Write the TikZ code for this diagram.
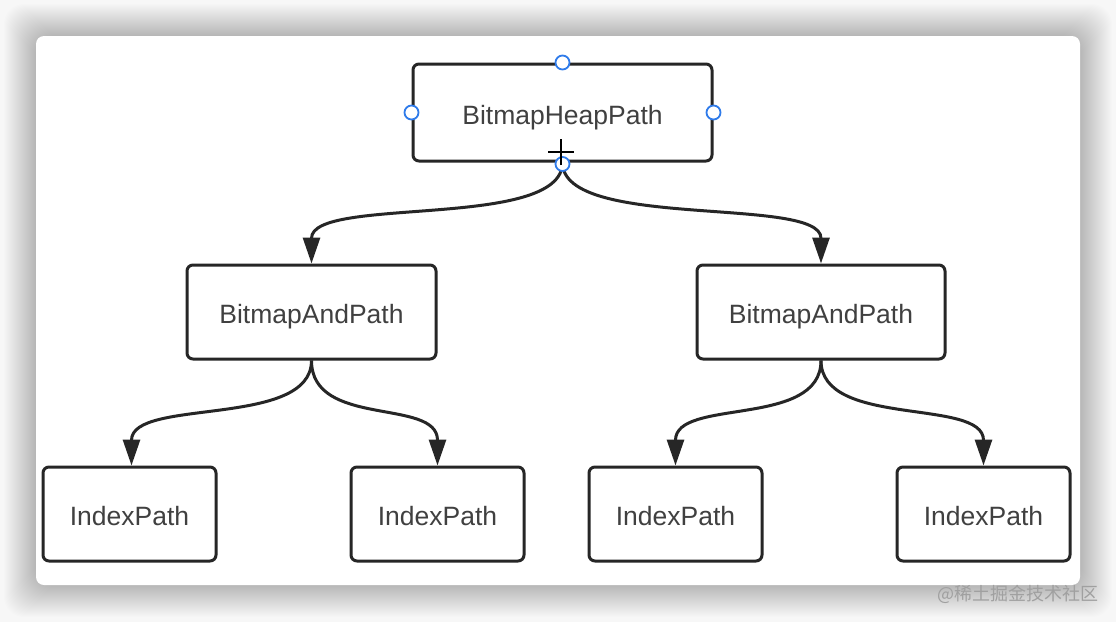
\documentclass[tikz,border=0pt]{standalone}
\usepackage{fontspec}
\setmainfont{Liberation Sans}
\newfontfamily\cjk{Noto Sans CJK SC}
\usetikzlibrary{arrows.meta}
\definecolor{boxc}{HTML}{262626}
\definecolor{txt}{HTML}{404040}
\definecolor{hblue}{HTML}{2F7BEA}
\definecolor{wm}{HTML}{A0A0A0}
\begin{document}
\begin{tikzpicture}[x=1pt,y=-1pt,
  box/.style={draw=boxc, line width=3pt, rounded corners=6pt, fill=white,
    font=\fontsize{26.5}{30}\selectfont, text=txt, inner sep=0pt,
    text height=23pt, text depth=0pt},
  conn/.style={draw=boxc, line width=3pt, -{Triangle[length=26pt,width=17pt]}},
  handle/.style={circle, draw=hblue, line width=1.8pt, fill=white, minimum size=14pt, inner sep=0pt}]
\useasboundingbox (0,0) rectangle (1116,622);
\fill[white!97!black] (0,0) rectangle (1116,622);
% shadow
\foreach \i in {1,...,32}{
  \fill[black, opacity=0.006, rounded corners=20pt] (36-\i,36-\i) rectangle (1080+\i,585+\i);
}
\fill[white, rounded corners=8pt] (36,36) rectangle (1080,585);
% nodes
\node[box, minimum width=299pt, minimum height=97pt] (top) at (562.5,112.5) {BitmapHeapPath};
\node[box, minimum width=249pt, minimum height=94pt] (ml) at (311.5,312) {BitmapAndPath};
\node[box, minimum width=248pt, minimum height=94pt] (mr) at (821,312) {BitmapAndPath};
\node[box, minimum width=173pt, minimum height=94pt] (b1) at (129.5,514) {IndexPath};
\node[box, minimum width=173pt, minimum height=94pt] (b2) at (437.5,514) {IndexPath};
\node[box, minimum width=173pt, minimum height=94pt] (b3) at (675.5,514) {IndexPath};
\node[box, minimum width=173pt, minimum height=94pt] (b4) at (983.5,514) {IndexPath};
% connectors
\draw[conn] (top.south) .. controls +(0,68) and +(0,-68) .. (ml.north);
\draw[conn] (top.south) .. controls +(0,68) and +(0,-68) .. (mr.north);
\draw[conn] (ml.south) .. controls +(0,68) and +(0,-68) .. ([xshift=2pt]b1.north);
\draw[conn] (ml.south) .. controls +(0,68) and +(0,-68) .. (b2.north);
\draw[conn] (mr.south) .. controls +(0,68) and +(0,-68) .. (b3.north);
\draw[conn] (mr.south) .. controls +(0,68) and +(0,-68) .. (b4.north);
% selection handles
\node[handle] (hn) at (top.north) {};
\node[handle] (hw) at (top.west) {};
\node[handle] (he) at (top.east) {};
\node[handle] (hs) at ([yshift=-1.5pt]top.south) {};
% cursor
\coordinate (cc) at (561,152);
\draw[black, line width=1.8pt] ([xshift=-13pt]cc) -- ([xshift=13pt]cc);
\draw[black, line width=1.8pt] ([yshift=-13pt]cc) -- ([yshift=13pt]cc);
% watermark
\node[anchor=east, text=wm, font=\cjk\fontsize{18}{21}\selectfont, inner sep=0pt] (wmk) at (1099,594) {@稀土掘金技术社区};
\end{tikzpicture}
\end{document}
